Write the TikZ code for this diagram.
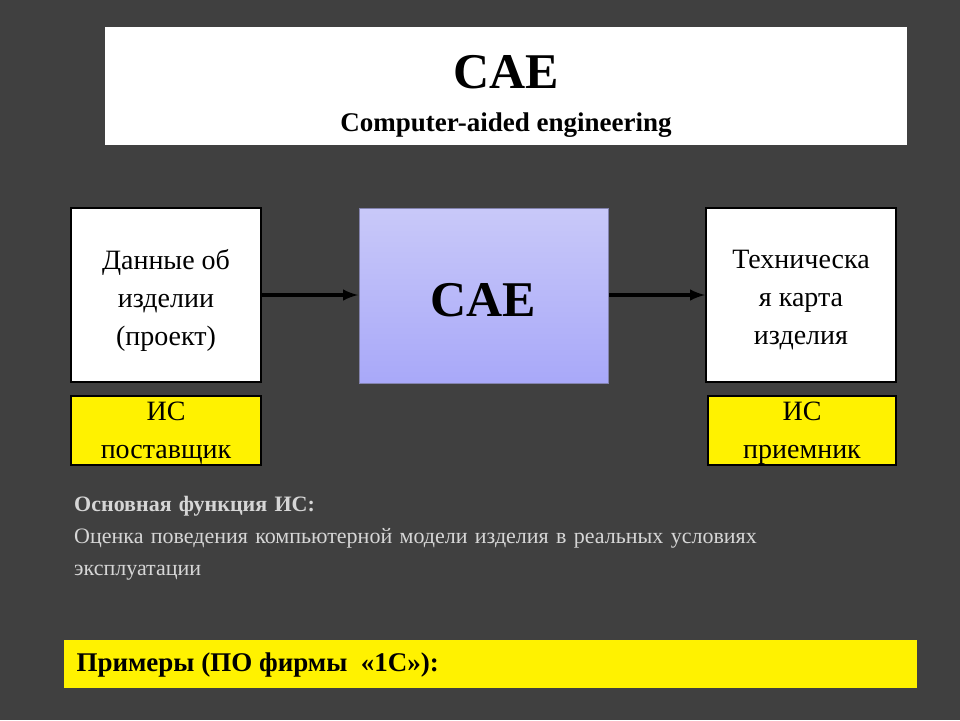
\documentclass[tikz,border=0pt]{standalone}
\usepackage{fontspec}
\setmainfont{Liberation Serif}
\begin{document}
\begin{tikzpicture}[x=1pt,y=-1pt,
 box/.style={draw=black,line width=2pt,fill=white},
 ybox/.style={draw=black,line width=2pt,fill=yellow},
 arr/.style={-latex,line width=4pt}]
\definecolor{bg}{HTML}{404040}
\definecolor{lav}{HTML}{BBBBF8}
\definecolor{lg}{HTML}{D6D6D6}
\fill[bg] (0,0) rectangle (960,720);
\useasboundingbox (0,0) rectangle (960,720);
\fill[white] (105,27) rectangle (907,145);
\node (t1) at (506,72) {\fontsize{50}{56}\selectfont\bfseries CAE};
\node (t2) at (506,125) {\fontsize{27}{32}\selectfont\bfseries Computer-aided engineering};
\draw[box] (71,208) rectangle (261,382);
\node[align=center,font=\fontsize{28}{38}\selectfont] (l) at (166,300) {Данные об\\изделии\\(проект)};
\shade[top color=lav!80!white,bottom color=lav!90!blue,draw=lav!70!black,line width=1pt] (359,208) rectangle (608,383);
\node (c) at (483.5,300) {\fontsize{50}{56}\selectfont\bfseries CAE};
\draw[box] (706,208) rectangle (896,382);
\node[align=center,font=\fontsize{28}{38}\selectfont] (r) at (801,300) {Техническа\\я карта\\изделия};
\coordinate (la) at (262,295); \coordinate (ca) at (358,295);
\coordinate (cb) at (609,295); \coordinate (ra) at (705,295);
\draw[arr] (la) -- (ca);
\draw[arr] (cb) -- (ra);
\draw[ybox] (71,396) rectangle (261,465);
\draw[ybox] (708,396) rectangle (896,465);
\begin{scope}
\clip (72,397) rectangle (260,464);
\node[align=center,font=\fontsize{28}{38}\selectfont] (y1) at (166,433) {ИС\\поставщик};
\end{scope}
\begin{scope}
\clip (709,397) rectangle (895,464);
\node[align=center,font=\fontsize{28}{38}\selectfont] (y2) at (802,433) {ИС\\приемник};
\end{scope}
\node[anchor=north west,inner sep=0pt,text=lg,text width=802pt,font=\fontsize{22}{32}\selectfont] (f) at (74,496)
 {\textbf{Основная функция ИС:}\\Оценка поведения компьютерной модели изделия в реальных условиях эксплуатации};
\fill[yellow] (64,640) rectangle (917,688);
\node[anchor=west,font=\fontsize{27}{32}\selectfont\bfseries] (p) at (73,665) {Примеры (ПО фирмы \ «1С»):};
\end{tikzpicture}
\end{document}
